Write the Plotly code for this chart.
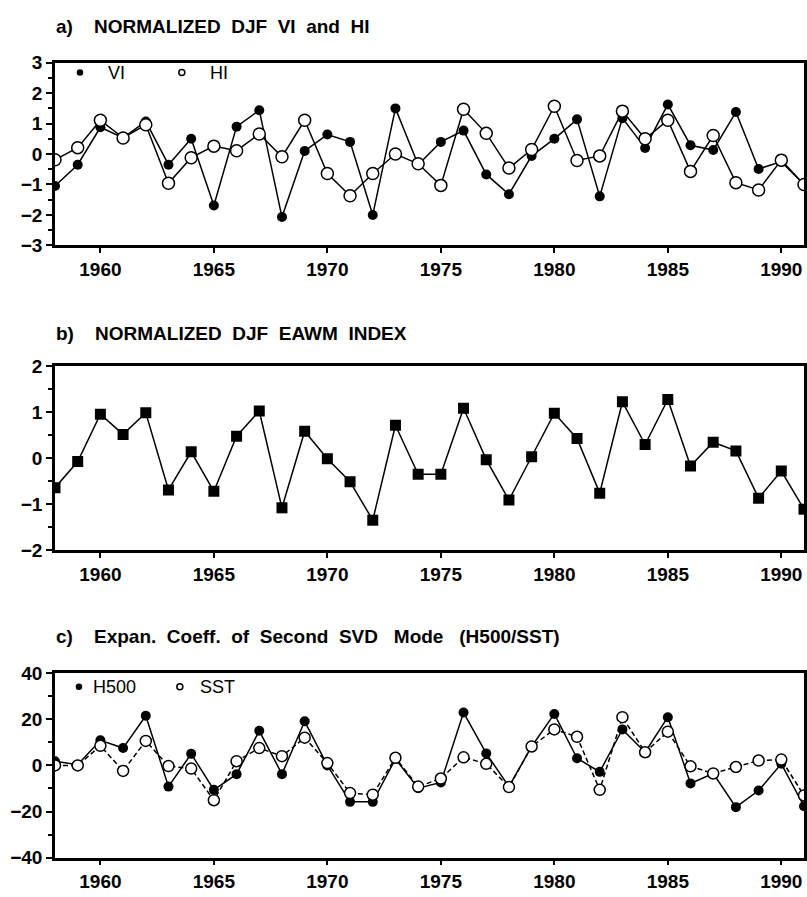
import plotly.graph_objects as go

years = list(range(1958, 1992))

vi = [-1.05, -0.35, 0.88, 0.53, 1.07, -0.35, 0.50, -1.69, 0.90, 1.44, -2.07, 0.10, 0.64, 0.40, -2.00, 1.50,
      -0.35, 0.40, 0.77, -0.67, -1.32, -0.06, 0.50, 1.14, -1.39, 1.18, 0.20, 1.63, 0.29, 0.13, 1.38, -0.49, -0.25, -1.00]
hi = [-0.19, 0.21, 1.11, 0.53, 0.96, -0.96, -0.12, 0.26, 0.11, 0.66, -0.09, 1.11, -0.64, -1.37, -0.64, 0.00,
      -0.32, -1.03, 1.47, 0.68, -0.46, 0.15, 1.57, -0.21, -0.06, 1.41, 0.50, 1.11, -0.57, 0.61, -0.94, -1.18, -0.20, -1.00]

eawm = [-0.64, -0.07, 0.96, 0.52, 0.99, -0.69, 0.14, -0.72, 0.48, 1.03, -1.08, 0.59, -0.01, -0.51, -1.35, 0.72,
        -0.35, -0.35, 1.09, -0.03, -0.91, 0.03, 0.98, 0.43, -0.76, 1.23, 0.30, 1.28, -0.17, 0.35, 0.16, -0.87, -0.28, -1.11]

h500 = [1.8, 0.3, 10.9, 7.5, 21.5, -9.2, 5.0, -10.6, -3.8, 15.0, -3.8, 19.1, 0.0, -15.8, -15.8, 2.8,
        -9.9, -7.4, 22.9, 5.2, -9.2, 8.2, 22.3, 3.1, -2.8, 15.6, 5.7, 20.9, -7.8, -3.5, -18.1, -10.9, 0.7, -17.7]
sst = [0.0, 0.0, 8.5, -2.4, 10.6, -0.3, -1.4, -15.1, 1.8, 7.5, 4.0, 12.0, 1.0, -12.0, -12.7, 3.3,
       -9.2, -5.7, 3.5, 0.7, -9.4, 8.2, 15.6, 12.4, -10.6, 20.9, 5.7, 14.6, -0.4, -3.5, -0.7, 2.1, 2.5, -13.0]

titles = ["a)    NORMALIZED  DJF  VI  and  HI",
          "b)    NORMALIZED  DJF  EAWM  INDEX",
          "c)    Expan.  Coeff.  of  Second  SVD   Mode   (H500/SST)"]
names_a = ["VI", "HI"]
names_c = ["H500", "SST"]
x_ticks = [1960, 1965, 1970, 1975, 1980, 1985, 1990]

W, H = 807, 897
L = 55
R = W - 805
TICKFONT = dict(family="Liberation Sans, Arial, sans-serif", size=19, color="black", weight="bold")
TITLEFONT = dict(family="Liberation Sans, Arial, sans-serif", size=19, color="black", weight="bold")
LEGFONT = dict(family="Liberation Sans, Arial, sans-serif", size=18, color="black")


def py(p):
    return 1 - p / H


def px(p):
    return (p - L) / (W - L - R)


panels = [(54, 241), (365, 553), (679, 868)]

fig = go.Figure()

line = dict(color="black", width=1.5)
fig.add_trace(go.Scatter(x=years, y=vi, mode="lines+markers", name=names_a[0], line=line,
                         marker=dict(symbol="circle", size=10, color="black"), xaxis="x", yaxis="y"))
fig.add_trace(go.Scatter(x=years, y=hi, mode="lines+markers", name=names_a[1], line=line,
                         marker=dict(symbol="circle", size=12, color="white", line=dict(color="black", width=1.5)),
                         xaxis="x", yaxis="y"))
fig.add_trace(go.Scatter(x=years, y=eawm, mode="lines+markers", name="EAWM", line=line,
                         marker=dict(symbol="square", size=11, color="black"), xaxis="x2", yaxis="y2"))
fig.add_trace(go.Scatter(x=years, y=h500, mode="lines+markers", name=names_c[0], line=line,
                         marker=dict(symbol="circle", size=10, color="black"), xaxis="x3", yaxis="y3"))
fig.add_trace(go.Scatter(x=years, y=sst, mode="lines+markers", name=names_c[1],
                         line=dict(color="black", width=1.5, dash="5px,3px"),
                         marker=dict(symbol="circle", size=11, color="white", line=dict(color="black", width=1.5)),
                         xaxis="x3", yaxis="y3"))

yranges = [([-3, 3], 1, 0.5), ([-2, 2], 1, 0.5), ([-40, 40], 20, 10)]
layout = dict(width=W, height=H, margin=dict(l=L, r=R, t=0, b=0),
              paper_bgcolor="white", plot_bgcolor="white", showlegend=False)
for i, ((top, bot), (yr, dt, mdt)) in enumerate(zip(panels, yranges)):
    sfx = "" if i == 0 else str(i + 1)
    layout["xaxis" + sfx] = dict(domain=[0, 1], range=[1958, 1991], anchor="y" + sfx,
                                 tickvals=x_ticks, ticks="outside", ticklen=5, tickwidth=1.5, tickcolor="black",
                                 showline=True, linecolor="black", linewidth=2.5, mirror=True,
                                 showgrid=False, zeroline=False, tickfont=TICKFONT)
    layout["yaxis" + sfx] = dict(domain=[py(bot), py(top)], range=yr, anchor="x" + sfx,
                                 dtick=dt, ticks="outside", ticklen=6, tickwidth=1.5, tickcolor="black",
                                 minor=dict(dtick=mdt, ticks="outside", ticklen=4, tickwidth=1.5, tickcolor="black"),
                                 showline=True, linecolor="black", linewidth=2.5, mirror=True,
                                 showgrid=False, zeroline=False, tickfont=TICKFONT)
fig.update_layout(**layout)

title_y = [17, 331, 642]
for t, yy in zip(titles, title_y):
    fig.add_annotation(text=t.replace(" ", "\u00a0"), xref="paper", yref="paper", x=px(54), y=py(yy),
                       xanchor="left", yanchor="middle", showarrow=False, font=TITLEFONT)


def legend_item(xc, yc, filled, label, xt):
    r = 2.5 if filled else 3
    fig.add_shape(type="circle", xref="paper", yref="paper", xsizemode="pixel", ysizemode="pixel",
                  xanchor=px(xc), yanchor=py(yc), x0=-r, x1=r, y0=-r, y1=r,
                  fillcolor="black" if filled else "white", line=dict(color="black", width=1.5))
    fig.add_annotation(text=label, xref="paper", yref="paper", x=px(xt), y=py(yc), xanchor="left",
                       yanchor="middle", showarrow=False, font=LEGFONT)


legend_item(80, 64, True, names_a[0], 106)
legend_item(182, 64, False, names_a[1], 208)
legend_item(79, 693, True, names_c[0], 91)
legend_item(180, 693, False, names_c[1], 198)

fig.write_html("out.html", config={"displayModeBar": False},
               post_script="document.body.style.margin='0';document.documentElement.style.overflow='hidden';")
